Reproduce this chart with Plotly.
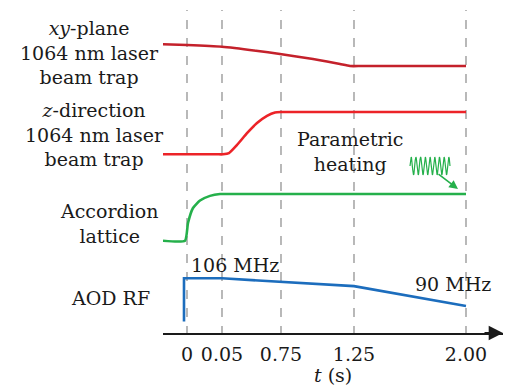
import numpy as np
import plotly.graph_objects as go

# ---------------- data ----------------
# schematic time axis: tick labels and their (non-linear) positions
tick_labels = ["0", "0.05", "0.75", "1.25", "2.00"]
tick_pos = [0, 35, 94, 167, 279]

# xy-plane 1064 nm trap, normalised power
xy_x = [-24, 0, 35, 69, 93, 126, 140, 153, 163, 175, 279]
xy_level = [1.0, 0.968, 0.889, 0.705, 0.553, 0.323, 0.207, 0.092, 0.0, 0.0, 0.0]

# z-direction 1064 nm trap, normalised power
z_x = [-24, 30, 36, 42, 50, 60, 70, 80, 88, 94, 104, 279]
z_level = [0.0, 0.0, 0.0, 0.03, 0.22, 0.50, 0.74, 0.91, 0.99, 1.0, 1.0, 1.0]

# accordion lattice, normalised power
acc_x = [-24, -2, 1, 6, 13, 23, 33, 42, 279]
acc_level = [0.0, 0.0, 0.38, 0.70, 0.86, 0.96, 1.0, 1.0, 1.0]

# AOD RF frequency (MHz)
aod_x = [-3, -3, 35, 167, 279]
aod_mhz = [81.0, 106.0, 106.0, 101.5, 90.0]

# ---------------- layout helpers (positions / styles) ----------------
H = 333          # plot height (px / y units)
L, R = 163, 503  # plot area left / right in px
X0 = 187         # px position of t = 0


def chan(levels, low_px, amp_px):
    return [H - (low_px - v * amp_px) for v in levels]


def aod(f):
    return [H - (306 - (v - 90) * 1.73) for v in f]


def px_x(px):
    return (px - L) / (R - L)


def px_y(py):
    return (H - py) / H


FONT = "DejaVu Serif"
FS = 19
INK = "#1a1a1a"

fig = go.Figure()

shapes = []
for p in tick_pos:
    shapes.append(dict(type="line", xref="x", yref="y", x0=p, x1=p, y0=-2, y1=H - 10,
                       line=dict(color="#8a8a8a", width=1.2, dash="dash"), layer="below"))

fig.add_trace(go.Scatter(x=xy_x, y=chan(xy_level, 66, 21.7), mode="lines",
                         line=dict(color="#c4212b", width=2.6, shape="spline", smoothing=0.5),
                         hoverinfo="skip"))
fig.add_trace(go.Scatter(x=z_x, y=chan(z_level, 154.3, 42.3), mode="lines",
                         line=dict(color="#ec2328", width=2.6, shape="spline", smoothing=0.5),
                         hoverinfo="skip"))
fig.add_trace(go.Scatter(x=acc_x, y=chan(acc_level, 240.7, 46.7), mode="lines",
                         line=dict(color="#25b04b", width=2.6, shape="spline", smoothing=0.5),
                         hoverinfo="skip"))
fig.add_trace(go.Scatter(x=aod_x, y=aod(aod_mhz), mode="lines",
                         line=dict(color="#1c6dbd", width=2.6),
                         hoverinfo="skip"))

# parametric-heating wiggle icon
wx = np.linspace(410 - X0, 450 - X0, 400)
wy = H - (166 - 9 * np.sin((wx - wx[0]) / (wx[-1] - wx[0]) * 2 * np.pi * 8.5))
fig.add_trace(go.Scatter(x=wx, y=wy, mode="lines",
                         line=dict(color="#25b04b", width=1.2), hoverinfo="skip"))

ann = []


def label(text, xpx, ypx):
    ann.append(dict(text=text, x=px_x(xpx), y=px_y(ypx), xref="paper", yref="paper",
                    showarrow=False, font=dict(family=FONT, size=FS, color=INK),
                    align="center", xanchor="center", yanchor="middle"))


label("<i>xy</i>-plane<br>1064 nm laser<br>beam trap", 89, 52)
label("<i>z</i>-direction<br>1064 nm laser<br>beam trap", 94, 134)
label("Accordion<br>lattice", 109, 223)
label("AOD RF", 110, 298)
label("106 MHz", 235, 265)
label("90 MHz", 453, 284)
label("Parametric<br>heating", 350, 151)
label("<i>t</i> (s)", 333, 375)

# green arrow of the heating icon
ann.append(dict(x=458 - X0, y=H - 189, ax=437 - X0, ay=H - 173, xref="x", yref="y",
                axref="x", ayref="y", text="", showarrow=True, arrowhead=2,
                arrowsize=1.1, arrowwidth=1.6, arrowcolor="#25b04b"))
# time-axis arrow head
ann.append(dict(x=R - X0, y=0, ax=R - X0 - 20, ay=0, xref="x", yref="y", axref="x",
                ayref="y", text="", showarrow=True, arrowhead=2, arrowsize=1.3,
                arrowwidth=2.2, arrowcolor=INK))

fig.update_layout(
    width=512, height=385,
    margin=dict(l=L, r=512 - R, t=0, b=385 - H, autoexpand=False),
    paper_bgcolor="white", plot_bgcolor="white",
    showlegend=False,
    shapes=shapes, annotations=ann,
    xaxis=dict(range=[L - X0, R - X0], tickvals=tick_pos, ticktext=tick_labels,
               showgrid=False, zeroline=False, showline=True, linecolor=INK,
               linewidth=2.2, ticks="outside", ticklen=3, tickcolor="rgba(0,0,0,0)",
               tickfont=dict(family=FONT, size=FS, color=INK),
               automargin=False, fixedrange=True),
    yaxis=dict(range=[0, H], visible=False, fixedrange=True),
)

fig.write_html("out.html", config={"displayModeBar": False},
               post_script="document.body.style.margin='0';document.body.style.overflow='hidden';")
